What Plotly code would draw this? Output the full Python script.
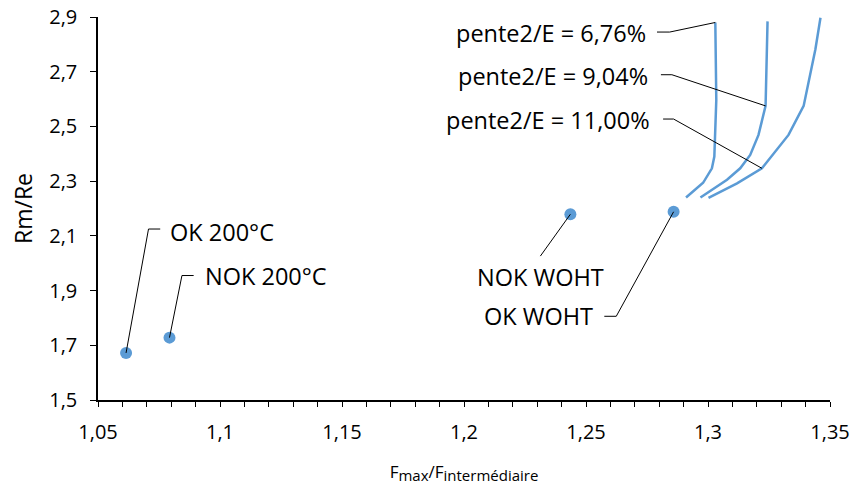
import plotly.graph_objects as go

# Measured points: x = Fmax/Fintermédiaire, y = Rm/Re
point_names = ["OK 200°C", "NOK 200°C", "NOK WOHT", "OK WOHT"]
point_x = [1.0615, 1.0793, 1.2436, 1.2859]
point_y = [1.672, 1.728, 2.179, 2.188]

# Simulated curves for three values of pente2/E
curve_names = ["pente2/E = 6,76%", "pente2/E = 9,04%", "pente2/E = 11,00%"]
curve_676_x = [1.2910, 1.2980, 1.3016, 1.3026, 1.3034, 1.3030]
curve_676_y = [2.240, 2.294, 2.347, 2.390, 2.597, 2.880]
curve_904_x = [1.2969, 1.3078, 1.3132, 1.3173, 1.3207, 1.3236, 1.3244]
curve_904_y = [2.240, 2.305, 2.347, 2.396, 2.469, 2.575, 2.884]
curve_1100_x = [1.3002, 1.3119, 1.3221, 1.3330, 1.3392, 1.3440, 1.3461]
curve_1100_y = [2.239, 2.292, 2.347, 2.469, 2.575, 2.781, 2.897]

x_tick_vals = [1.05, 1.10, 1.15, 1.20, 1.25, 1.30, 1.35]
x_tick_text = ["1,05", "1,1", "1,15", "1,2", "1,25", "1,3", "1,35"]
y_tick_vals = [1.5, 1.7, 1.9, 2.1, 2.3, 2.5, 2.7, 2.9]
y_tick_text = ["1,5", "1,7", "1,9", "2,1", "2,3", "2,5", "2,7", "2,9"]

BLUE = "#5B9BD5"
FONT = "Open Sans"
LABEL_SIZE = 23.5

fig = go.Figure()

curves = [(curve_676_x, curve_676_y), (curve_904_x, curve_904_y), (curve_1100_x, curve_1100_y)]
for name, (cx, cy) in zip(curve_names, curves):
    fig.add_trace(go.Scatter(x=cx, y=cy, mode="lines", name=name,
                             line=dict(color=BLUE, width=2.5), showlegend=False,
                             hoverinfo="skip", cliponaxis=True))

fig.add_trace(go.Scatter(x=point_x, y=point_y, mode="markers", text=point_names,
                         marker=dict(color=BLUE, size=12), showlegend=False))

# Callout placement: (elbow_x, elbow_y, stub_x, text_x, text_y)
curve_label_layout = [
    (1.2843, 2.845, 1.2791, 1.2756, 2.843),
    (1.2852, 2.689, 1.2807, 1.2763, 2.685),
    (1.2859, 2.527, 1.2816, 1.2771, 2.524),
]
# Which curve vertex each callout points at
curve_anchor_idx = [5, 5, 2]

for name, (cx, cy), idx, (ex, ey, sx, tx, ty) in zip(curve_names, curves, curve_anchor_idx, curve_label_layout):
    fig.add_trace(go.Scatter(x=[cx[idx], ex, sx], y=[cy[idx], ey, ey], mode="lines",
                             line=dict(color="black", width=1), showlegend=False, hoverinfo="skip"))
    fig.add_annotation(x=tx, y=ty, text=name, showarrow=False, xanchor="right", yanchor="middle",
                       font=dict(family=FONT, size=LABEL_SIZE, color="black"))

point_label_layout = [
    # (elbow_x, elbow_y, stub_x or None, text_x, text_y, xanchor)
    (1.0707, 2.125, 1.0755, 1.0788, 2.115, "left"),
    (1.0844, 1.955, 1.0892, 1.0930, 1.953, "left"),
    (1.2313, 2.026, None, 1.2313, 1.948, "center"),
    (1.2624, 1.806, 1.2575, 1.2538, 1.806, "right"),
]
for name, px, py, (ex, ey, sx, tx, ty, xa) in zip(point_names, point_x, point_y, point_label_layout):
    lx = [px, ex] + ([sx] if sx is not None else [])
    ly = [py, ey] + ([ey] if sx is not None else [])
    fig.add_trace(go.Scatter(x=lx, y=ly, mode="lines",
                             line=dict(color="black", width=1), showlegend=False, hoverinfo="skip"))
    fig.add_annotation(x=tx, y=ty, text=name, showarrow=False, xanchor=xa, yanchor="middle",
                       font=dict(family=FONT, size=LABEL_SIZE, color="black"))

x_title = ("F<sub><span style='font-size:15px'>max</span></sub>/"
           "F<sub><span style='font-size:15px'>intermédiaire</span></sub>")

fig.update_layout(
    width=850, height=488,
    margin=dict(l=98, r=20, t=17, b=88, autoexpand=False),
    paper_bgcolor="white", plot_bgcolor="white",
    font=dict(family=FONT, size=20, color="black"),
    showlegend=False,
)
fig.update_xaxes(
    range=[1.05, 1.35], tickvals=x_tick_vals, ticktext=x_tick_text, automargin=False,
    showgrid=False, zeroline=False, showline=True, linecolor="black", linewidth=1.5,
    ticks="outside", ticklen=5, tickcolor="black", tickwidth=1.2, ticklabelstandoff=8,
    minor=dict(dtick=0.01, tick0=1.05, ticks="outside", ticklen=5, tickcolor="black", tickwidth=1.2, showgrid=False),
    tickfont=dict(family=FONT, size=20, color="black"),
    title=dict(text=x_title, font=dict(family=FONT, size=17, color="black"), standoff=22),
)
fig.update_yaxes(
    range=[1.5, 2.9], tickvals=y_tick_vals, ticktext=y_tick_text, automargin=False,
    showgrid=False, zeroline=False, showline=True, linecolor="black", linewidth=1.5,
    ticks="outside", ticklen=6, tickcolor="black", tickwidth=1.2, ticklabelstandoff=9,
    tickfont=dict(family=FONT, size=20, color="black"),
    title=dict(text="Rm/Re", font=dict(family=FONT, size=23, color="black"), standoff=10),
)

fig.write_html("out.html")
